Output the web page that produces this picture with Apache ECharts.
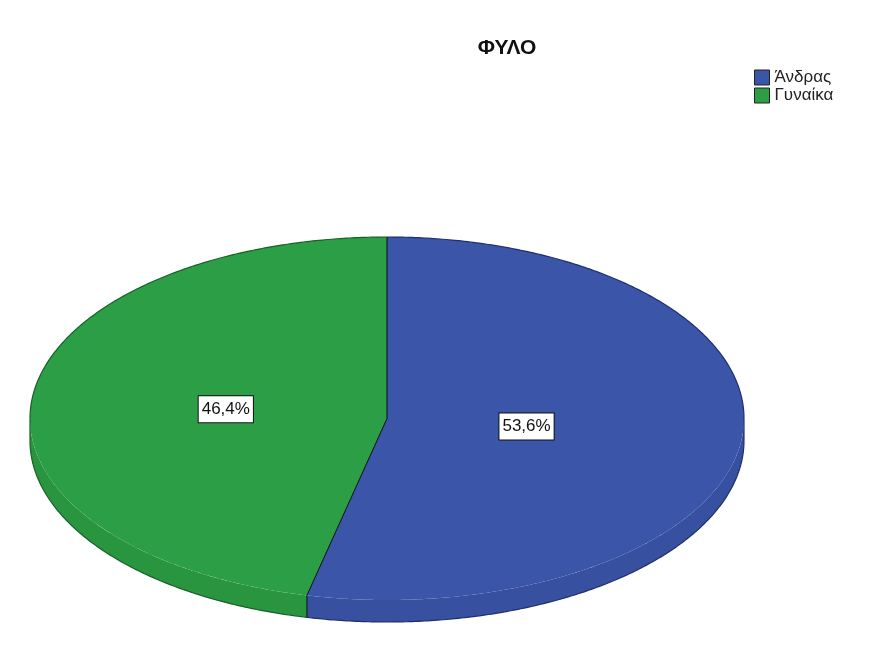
<!DOCTYPE html>
<html>
<head>
<meta charset="utf-8">
<script src="https://cdn.jsdelivr.net/npm/echarts@6/dist/echarts.min.js"></script>
<style>
html,body{margin:0;padding:0;background:#fff;}
#main{width:872px;height:660px;}
</style>
</head>
<body>
<div id="main"></div>
<script>
const titleText = 'ΦΥΛΟ';
const categories = ['Άνδρας', 'Γυναίκα'];
const percentages = [53.6, 46.4];
const colors = ['#3b55a8', '#2c9e45'];
const sideColors = ['#3750a0', '#29953f'];
const edgeColors = ['#1f2f6e', '#17612a'];

const CX = 387, CY = 418.5, RX = 357, RY = 181.5, DEPTH = 22;
const FONT = '"Liberation Sans", Arial, sans-serif';

function pt(theta, f, dy) {
  return [CX + RX * f * Math.sin(theta), CY - RY * f * Math.cos(theta) + (dy || 0)];
}
function arc(a, b, dy) {
  const pts = [];
  const n = Math.max(2, Math.ceil(Math.abs(b - a) / (Math.PI / 360)));
  for (let k = 0; k <= n; k++) pts.push(pt(a + (b - a) * k / n, 1, dy));
  return pts;
}
function fmt(v) { return v.toFixed(1).replace('.', ',') + '%'; }

function makeRender(i) {
  return function (params, api) {
    const v = api.value(0);
    const total = percentages.reduce((s, x) => s + x, 0);
    let before = 0;
    for (let j = 0; j < i; j++) before += percentages[j];
    const a0 = before / total * Math.PI * 2;
    const a1 = a0 + v / total * Math.PI * 2;
    const children = [];
    const FRONT0 = Math.PI / 2, FRONT1 = Math.PI * 1.5;
    const s0 = Math.max(a0, FRONT0), s1 = Math.min(a1, FRONT1);
    if (s1 > s0) {
      const top = arc(s0, s1, 0);
      const bot = arc(s1, s0, DEPTH);
      children.push({
        type: 'polygon', z2: 1,
        shape: { points: top.concat(bot) },
        style: { fill: sideColors[i], stroke: null }
      });
      children.push({
        type: 'polyline', z2: 3,
        shape: { points: arc(s0, s1, DEPTH) },
        style: { fill: null, stroke: edgeColors[i], lineWidth: 1.2 }
      });
    }
    children.push({
      type: 'polygon', z2: 2,
      shape: { points: [[CX, CY]].concat(arc(a0, a1, 0)) },
      style: { fill: colors[i], stroke: null }
    });
    const backRanges = [[0, FRONT0], [FRONT1, Math.PI * 2]];
    backRanges.forEach(function (r) {
      const b0 = Math.max(a0, r[0]), b1 = Math.min(a1, r[1]);
      if (b1 > b0) {
        children.push({
          type: 'polyline', z2: 3,
          shape: { points: arc(b0, b1, 0) },
          style: { fill: null, stroke: edgeColors[i], lineWidth: 1.2 }
        });
      }
    });
    [FRONT0, FRONT1].forEach(function (t) {
      if (t >= a0 && t <= a1) {
        const p = pt(t, 1, 0), q = pt(t, 1, DEPTH);
        children.push({
          type: 'line', z2: 3,
          shape: { x1: p[0], y1: p[1], x2: q[0], y2: q[1] },
          style: { stroke: edgeColors[i], lineWidth: 1.2 }
        });
      }
    });
    const ps = pt(a0, 1, 0);
    children.push({
      type: 'line', z2: 4,
      shape: { x1: CX, y1: CY, x2: ps[0], y2: ps[1] },
      style: { stroke: '#0a0a0a', lineWidth: 1 }
    });
    if (a0 > FRONT0 && a0 < FRONT1) {
      const pb = pt(a0, 1, DEPTH);
      children.push({
        type: 'line', z2: 4,
        shape: { x1: ps[0], y1: ps[1], x2: pb[0], y2: pb[1] },
        style: { stroke: '#0a0a0a', lineWidth: 1 }
      });
    }
    const alpha = a1 - a0;
    const f = 4 * Math.sin(alpha / 2) / (3 * alpha);
    const lp = pt((a0 + a1) / 2, f, 0);
    children.push({
      type: 'text', z2: 5,
      style: {
        text: fmt(v), x: lp[0], y: lp[1], align: 'center', verticalAlign: 'middle',
        fill: '#111', fontSize: 17, fontFamily: FONT,
        backgroundColor: '#fff', borderColor: '#111', borderWidth: 1, padding: [5, 3, 4, 3]
      }
    });
    return { type: 'group', children: children };
  };
}

const chart = echarts.init(document.getElementById('main'), null, { renderer: 'canvas' });
chart.setOption({
  backgroundColor: '#ffffff',
  animation: false,
  color: colors,
  title: {
    text: titleText, left: 502, top: 33, textAlign: 'center',
    textStyle: { fontSize: 21, fontWeight: 'bold', color: '#111', fontFamily: FONT }
  },
  legend: {
    orient: 'vertical', left: 754, top: 69, padding: 0, itemWidth: 15, itemHeight: 15, itemGap: 1,
    icon: 'rect', data: categories,
    itemStyle: { borderColor: '#222', borderWidth: 1 },
    textStyle: { fontSize: 17, color: '#222', fontFamily: FONT }
  },
  series: categories.map((name, i) => ({
    type: 'custom', name: name, coordinateSystem: 'none',
    itemStyle: { color: colors[i] },
    renderItem: makeRender(i),
    data: [[percentages[i]]]
  }))
});
</script>
</body>
</html>
